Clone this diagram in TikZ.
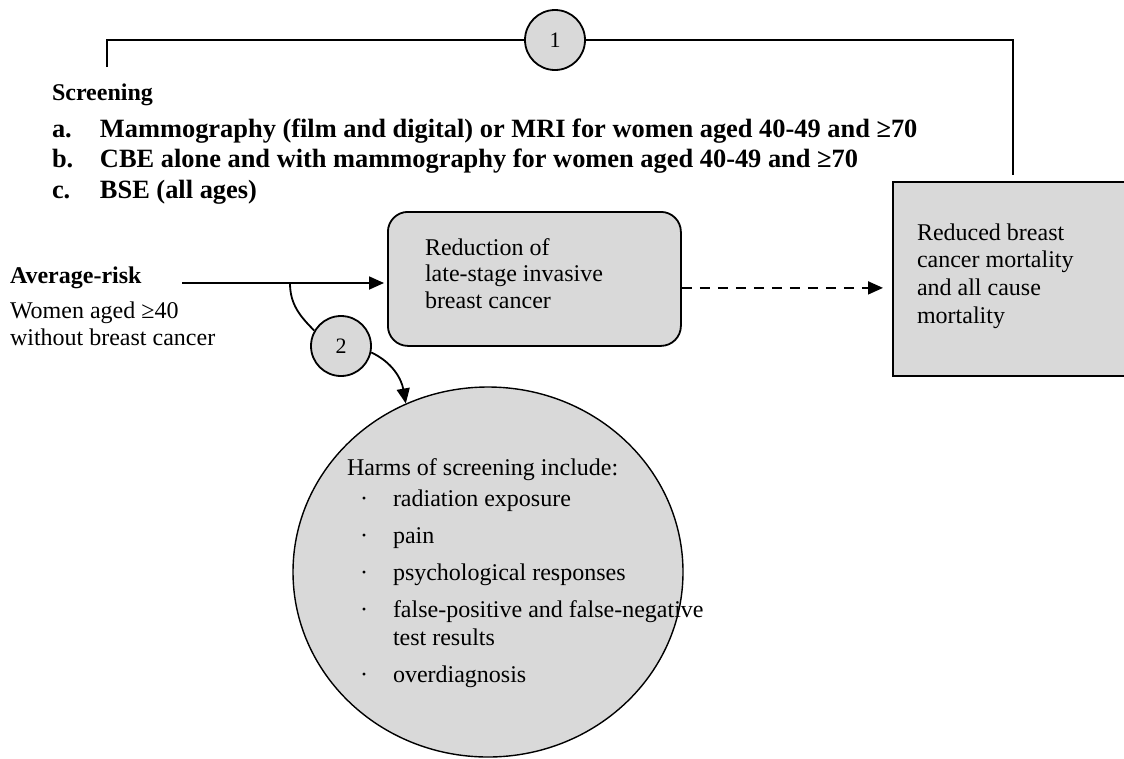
\documentclass[tikz,border=0pt]{standalone}
\usepackage{fontspec}
\setmainfont{Liberation Serif}
\usetikzlibrary{arrows.meta,shapes.geometric}
\definecolor{boxgray}{RGB}{217,217,217}
\begin{document}
\begin{tikzpicture}[x=1pt,y=1pt,
  conn/.style={line width=1.8pt},
  arr/.style={conn,-{Triangle[length=15pt,width=13pt]}},
  txt/.style={inner sep=0pt, outer sep=0pt, anchor=base west},
  body/.style={font=\fontsize{24}{27.5}\selectfont},
  boldbody/.style={font=\fontsize{24}{27.5}\selectfont\bfseries},
  numcirc/.style={circle, draw, line width=1.8pt, fill=boxgray, minimum size=60pt, inner sep=0pt, font=\fontsize{22}{26}\selectfont},
  graybox/.style={draw, line width=1.8pt, fill=boxgray, inner sep=0pt, anchor=north west},
]
\useasboundingbox (0,0) rectangle (1124,-758);
\clip (0,0) rectangle (1124,-758);

% shapes
\node[graybox, rounded corners=20pt, minimum width=293pt, minimum height=134pt] (box1) at (387,-211) {};
\node[graybox, minimum width=250pt, minimum height=194pt] (box2) at (892,-181) {};
\node[ellipse, draw, line width=1.4pt, fill=boxgray, minimum width=390pt, minimum height=370pt, inner sep=0pt] (harm) at (488,-572) {};
\node[numcirc] (c1) at (555,-40) {1};
\node[numcirc] (c2) at (341,-346) {2};

% texts
\node[txt, boldbody] (scr) at (52,-100) {Screening};
\node[txt, font=\fontsize{26.4}{30.5}\selectfont\bfseries] (list) at (52,-137) {\vtop{%
  \hbox{\makebox[48pt][l]{a.}Mammography (film and digital) or MRI for women aged 40-49 and ≥70}%
  \hbox{\makebox[48pt][l]{b.}CBE alone and with mammography for women aged 40-49 and ≥70}%
  \hbox{\makebox[48pt][l]{c.}BSE (all ages)}}};
\node[txt, boldbody] (avg) at (10,-283) {Average-risk};
\node[txt, font=\fontsize{24}{27}\selectfont] (women) at (10,-318) {\vtop{%
  \hbox{Women aged ≥40}\hbox{without breast cancer}}};
\node[txt, font=\fontsize{24}{26.5}\selectfont] (b1txt) at (425,-255) {\vtop{%
  \hbox{Reduction of}\hbox{late-stage invasive}\hbox{breast cancer}}};
\node[txt, font=\fontsize{24}{27.7}\selectfont] (b2txt) at (917,-240) {\vtop{%
  \hbox{Reduced breast}\hbox{cancer mortality}\hbox{and all cause}\hbox{mortality}}};
\node[txt, font=\fontsize{24}{28}\selectfont] (harmtxt) at (347,-475) {\vtop{%
  \hbox{Harms of screening include:}\vskip3pt
  \hbox{\hspace*{13pt}\makebox[33pt][l]{·}radiation exposure}\vskip9pt
  \hbox{\hspace*{13pt}\makebox[33pt][l]{·}pain}\vskip9pt
  \hbox{\hspace*{13pt}\makebox[33pt][l]{·}psychological responses}\vskip9pt
  \hbox{\hspace*{13pt}\makebox[33pt][l]{·}false-positive and false-negative}
  \hbox{\hspace*{46pt}test results}\vskip9pt
  \hbox{\hspace*{13pt}\makebox[33pt][l]{·}overdiagnosis}}};

% connectors
\coordinate (tl) at (107,-67);
\coordinate (tr) at (1013,-175);
\draw[conn] (tl) |- (c1.west);
\draw[conn] (c1.east) -| (tr);

\coordinate (avs) at (182,-283);
\coordinate (br) at (290,-283);
\draw[arr, shorten >=3pt] (avs) -- (avs -| box1.west);
\draw[conn] (br) to[out=-90, in=135] (c2.150);
\draw[arr] (c2.-12) to[out=-25, in=100] (harm.116);
\draw[arr, dash pattern=on 10pt off 8pt, shorten >=9pt] ([yshift=-9pt]box1.east) -- ([yshift=-9pt]box1.east -| box2.west);
\end{tikzpicture}
\end{document}
